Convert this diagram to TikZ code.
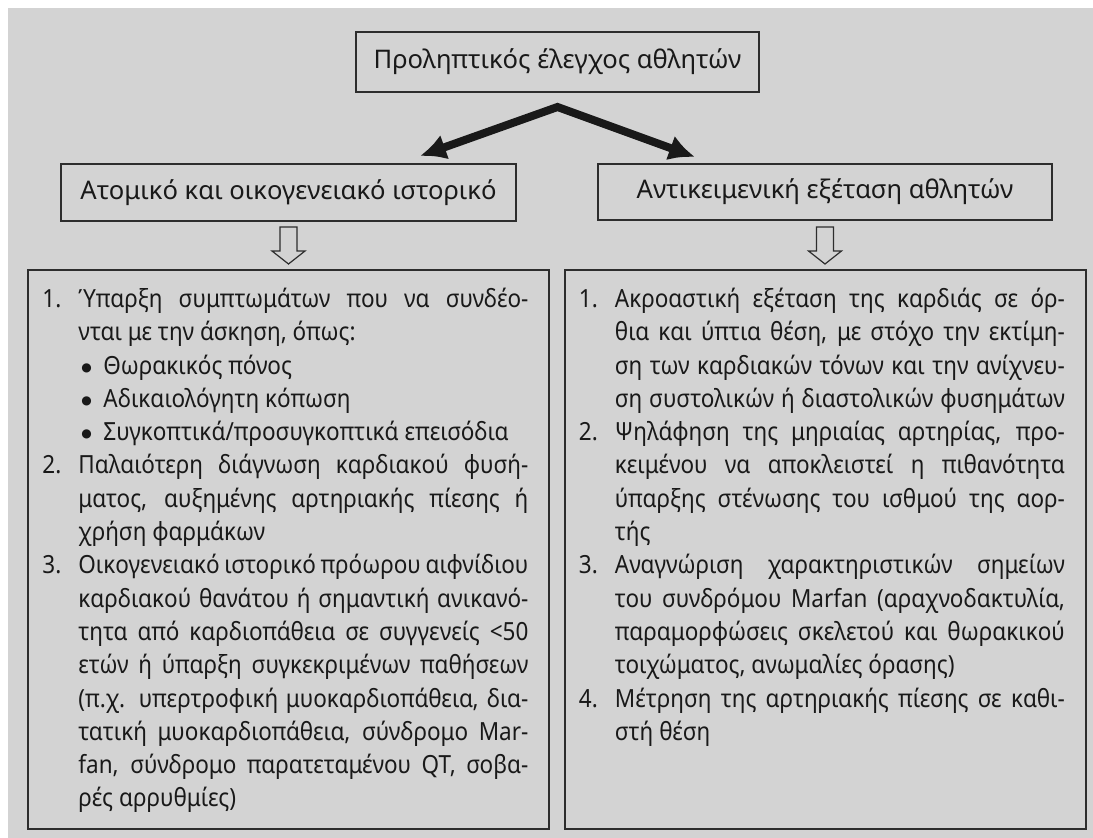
\documentclass[tikz,border=0pt]{standalone}
\usepackage{fontspec}
\setmainfont{Noto Sans}[FakeStretch=0.9]
\newfontfamily\headfont{Noto Sans}
\newfontfamily\symfont{DejaVu Sans}
\usetikzlibrary{arrows.meta, positioning}

\definecolor{panel}{RGB}{211,211,211}
\definecolor{boxline}{RGB}{45,45,45}
\definecolor{ink}{RGB}{25,25,25}

% one line of a numbered list: number column, then the text column
\newlength\colw \setlength\colw{225pt}
\newcommand\jline[2]{\hbox{\hbox to 18pt{#1\hfil}\hbox to \colw{#2}}}
\newcommand\rline[2]{\hbox{\hbox to 18pt{#1\hfil}\hbox to \colw{#2\hfil}}}
\newcommand\bigbullet{\raisebox{1.4pt}{\symfont\fontsize{6pt}{6pt}\selectfont ●}}
\newcommand\bline[1]{\hbox{\hbox to 18pt{\hfil}\hbox to \colw{\hbox to 12.5pt{\hskip 1.5pt\bigbullet\hfil}#1\hfil}}}
\newcommand\listlines[1]{\vtop{\baselineskip=16.65pt\lineskiplimit=-\maxdimen #1}}

\begin{document}
\begin{tikzpicture}[x=0.5pt, y=-0.5pt]
    \tikzset{
        head/.style = {rectangle, draw=boxline, line width=1pt, text=ink, inner sep=0pt, font=\headfont\fontsize{12.8pt}{15pt}\selectfont},
        listbox/.style = {rectangle, draw=boxline, line width=1pt, minimum width=260.5pt, minimum height=279.5pt},
        listtext/.style = {anchor=base west, inner sep=0pt, text=ink, font=\fontsize{12.5pt}{16.65pt}\selectfont},
        bigarrow/.style = {draw=ink, line width=4pt, line join=miter, {Latex[length=13pt,width=13pt]}-{Latex[length=13pt,width=13pt]}},
        hollow/.style = {draw=boxline, line width=0.6pt},
    }

    \useasboundingbox (0,0) rectangle (1093,838);
    \fill[panel] (8,8) rectangle (1093,838);

    \node[head, minimum width=201.5pt, minimum height=30pt](screening) at (557.5,62){Προληπτικός έλεγχος αθλητών};

    \node[head, minimum width=227.5pt, minimum height=28.5pt](history) at (288.5,192.5){Ατομικό και οικογενειακό ιστορικό};

    \node[head, minimum width=227pt, minimum height=28pt](exam) at (825,192){Αντικειμενική εξέταση αθλητών};

    \node[listbox](historylist)[below = 23.5pt of history]{};

    \node[listbox](examlist)[below = 24pt of exam]{};

    % split arrow from the top box
    \coordinate (split) at ([yshift=-7pt]screening.south);
    \path[bigarrow] ([shift={(131.5,-7)}]history.north) -- (split) -- ([shift={(-130,-6)}]exam.north);

    % hollow arrows into the lists
    \draw[hollow] ([shift={(-8.5,5)}]history.south) -- ++(0,24) -- ++(-8,0) -- ++(16.5,13) -- ++(16.5,-13) -- ++(-8,0) -- ++(0,-24) -- cycle;
    \draw[hollow] ([shift={(-8.5,6)}]exam.south) -- ++(0,24) -- ++(-8,0) -- ++(16.5,13) -- ++(16.5,-13) -- ++(-8,0) -- ++(0,-24) -- cycle;

    \node[listtext](historytext) at ([shift={(15,38.5)}]historylist.north west){\listlines{
        \jline{1.}{Ύπαρξη συμπτωμάτων που να συνδέο-}
        \rline{}{νται με την άσκηση, όπως:}
        \bline{Θωρακικός πόνος}
        \bline{Αδικαιολόγητη κόπωση}
        \bline{Συγκοπτικά/προσυγκοπτικά επεισόδια}
        \jline{2.}{Παλαιότερη διάγνωση καρδιακού φυσή-}
        \jline{}{ματος, αυξημένης αρτηριακής πίεσης ή}
        \rline{}{χρήση φαρμάκων}
        \jline{3.}{Οικογενειακό ιστορικό πρόωρου αιφνίδιου}
        \jline{}{καρδιακού θανάτου ή σημαντική ανικανό-}
        \jline{}{τητα από καρδιοπάθεια σε συγγενείς <50}
        \jline{}{ετών ή ύπαρξη συγκεκριμένων παθήσεων}
        \jline{}{(π.χ. υπερτροφική μυοκαρδιοπάθεια, δια-}
        \jline{}{τατική μυοκαρδιοπάθεια, σύνδρομο Mar-}
        \jline{}{fan, σύνδρομο παρατεταμένου QT, σοβα-}
        \rline{}{ρές αρρυθμίες)}
    }};

    \node[listtext](examtext) at ([shift={(15,38.5)}]examlist.north west){\listlines{
        \jline{1.}{Ακροαστική εξέταση της καρδιάς σε όρ-}
        \jline{}{θια και ύπτια θέση, με στόχο την εκτίμη-}
        \jline{}{ση των καρδιακών τόνων και την ανίχνευ-}
        \jline{}{ση συστολικών ή διαστολικών φυσημάτων}
        \jline{2.}{Ψηλάφηση της μηριαίας αρτηρίας, προ-}
        \jline{}{κειμένου να αποκλειστεί η πιθανότητα}
        \jline{}{ύπαρξης στένωσης του ισθμού της αορ-}
        \rline{}{τής}
        \jline{3.}{Αναγνώριση χαρακτηριστικών σημείων}
        \jline{}{του συνδρόμου Marfan (αραχνοδακτυλία,}
        \jline{}{παραμορφώσεις σκελετού και θωρακικού}
        \rline{}{τοιχώματος, ανωμαλίες όρασης)}
        \jline{4.}{Μέτρηση της αρτηριακής πίεσης σε καθι-}
        \rline{}{στή θέση}
    }};
\end{tikzpicture}
\end{document}
